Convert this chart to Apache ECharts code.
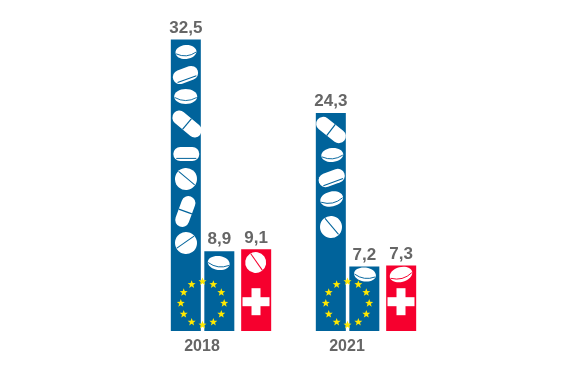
<!DOCTYPE html>
<html>
<head>
<meta charset="utf-8">
<style>html,body{margin:0;padding:0;background:#fff}#c{width:588px;height:374px}</style>
<script src="https://cdn.jsdelivr.net/npm/echarts@6/dist/echarts.min.js"></script>
</head>
<body>
<div id="c"></div>
<script>
const categories = ['2018', '2021'];
const euTotal = [32.5, 24.3];
const euSecond = [8.9, 7.2];
const swiss = [9.1, 7.3];

const BLUE = '#00639b', RED = '#f6002e', GREY = '#666666', WHITE = '#ffffff', YELLOW = '#ffe800';

// Decorative pictograms, offset in px from each group's centre / baseline
const icons = [
  [
    ['tablet', -35, -279, 10.5, 7, -5], ['caplet', -35.5, -256, 26, 14, -20], ['oval', -35.3, -234.5, 11.5, 7.5, 0],
    ['capsule', -34, -207, 34, 14, 40], ['caplet', -34.7, -177, 26, 14, 0], ['round', -35, -152, 11, 0, 40],
    ['capsule', -35.7, -119.5, 32, 14, -70], ['round', -35, -88, 11, 0, -35],
    ['tablet', -2.3, -68, 11, 7, 8], ['round', 34.7, -68.5, 10.5, 0, 55]
  ],
  [
    ['capsule', -35, -201, 34, 14, 38], ['tablet', -33.7, -176, 11, 7, -5], ['caplet', -34.3, -153, 27, 14, -20],
    ['oval', -34.3, -132, 11.5, 7.5, -12], ['round', -35, -104, 11, 0, 50],
    ['tablet', -1, -56.5, 11, 7, 8], ['oval', 35, -56.5, 11.5, 7.5, -15]
  ]
];

function tablet(rx, ry, colour) {
  return [
    { type: 'ellipse', shape: { cx: 0, cy: 0, rx: rx, ry: ry }, style: { fill: WHITE } },
    { type: 'bezierCurve', shape: { x1: -rx + 0.5, y1: 1, x2: rx - 0.5, y2: 1, cpx1: 0, cpy1: ry * 0.95 },
      style: { stroke: colour, lineWidth: 0.9, fill: null } }
  ];
}
function iconChildren(ic, colour) {
  const t = ic[0], a = ic[3], b = ic[4];
  if (t === 'tablet' || t === 'oval') return tablet(a, b, colour);
  if (t === 'caplet') return [
    { type: 'rect', shape: { x: -a / 2, y: -b / 2, width: a, height: b, r: b / 2 }, style: { fill: WHITE } },
    { type: 'line', shape: { x1: -a / 2 + 3, y1: b / 2 - 2.6, x2: a / 2 - 3, y2: b / 2 - 2.6 }, style: { stroke: colour, lineWidth: 1 } }
  ];
  if (t === 'capsule') return [
    { type: 'rect', shape: { x: -a / 2, y: -b / 2, width: a, height: b, r: b / 2 }, style: { fill: WHITE } },
    { type: 'line', shape: { x1: 0, y1: -b / 2, x2: 0, y2: b / 2 }, style: { stroke: colour, lineWidth: 1.2 } }
  ];
  return [
    { type: 'circle', shape: { cx: 0, cy: 0, r: a }, style: { fill: WHITE } },
    { type: 'line', shape: { x1: -a + 0.5, y1: -1, x2: a - 0.5, y2: -1 }, style: { stroke: colour, lineWidth: 1 } }
  ];
}
function starPoints(r) {
  const pts = [];
  for (let i = 0; i < 10; i++) {
    const rad = i % 2 ? r * 0.42 : r, ang = -Math.PI / 2 + i * Math.PI / 5;
    pts.push([rad * Math.cos(ang), rad * Math.sin(ang)]);
  }
  return pts;
}
function renderDecor(params, api) {
  const idx = params.dataIndex;
  const base = api.coord([api.value(0), 0]);
  const children = [];
  icons[idx].forEach(function (ic) {
    const onRed = ic[1] > 20;
    children.push({
      type: 'group', x: base[0] + ic[1], y: base[1] + ic[2], rotation: -ic[5] * Math.PI / 180,
      children: iconChildren(ic, onRed ? RED : BLUE)
    });
  });
  // Swiss cross
  children.push({ type: 'rect', shape: { x: base[0] + 35 - 13.5, y: base[1] - 29.3 - 4.5, width: 27, height: 9 }, style: { fill: WHITE } });
  children.push({ type: 'rect', shape: { x: base[0] + 35 - 4.5, y: base[1] - 29.3 - 13.5, width: 9, height: 27 }, style: { fill: WHITE } });
  // EU star ring
  const cx = base[0] - 18.5, cy = base[1] - 27.7;
  for (let i = 0; i < 12; i++) {
    const a = i * Math.PI / 6;
    children.push({
      type: 'polygon', x: cx + 21.7 * Math.sin(a), y: cy - 21.7 * Math.cos(a),
      shape: { points: starPoints(4.2) }, style: { fill: YELLOW }
    });
  }
  return { type: 'group', children: children };
}

const barLabel = {
  show: true, position: 'top', distance: 3, color: GREY, fontFamily: 'Liberation Sans, Arial, sans-serif',
  fontSize: 17, fontWeight: 'bold',
  formatter: function (p) { return String(p.value.toFixed(1)).replace('.', ','); }
};

const chart = echarts.init(document.getElementById('c'), null, { renderer: 'canvas' });
chart.setOption({
  animation: false,
  backgroundColor: '#ffffff',
  grid: { left: 148.5, width: 290, top: 17, bottom: 43 },
  xAxis: {
    type: 'category', data: categories,
    axisLine: { show: false }, axisTick: { show: false }, splitLine: { show: false },
    axisLabel: { color: GREY, fontFamily: 'Liberation Sans, Arial, sans-serif', fontSize: 16, fontWeight: 'bold', margin: 8, padding: [0, 38, 0, 0] }
  },
  yAxis: { type: 'value', min: 0, max: 35, show: false },
  series: [
    { name: 'EU total', type: 'bar', barWidth: 30, barGap: '11.67%', data: euTotal, itemStyle: { color: BLUE }, label: barLabel },
    { name: 'EU second', type: 'bar', barWidth: 30, data: euSecond, itemStyle: { color: BLUE }, label: barLabel },
    { name: 'spacer', type: 'bar', barWidth: 3, data: [null, null] },
    { name: 'Switzerland', type: 'bar', barWidth: 30, data: swiss, itemStyle: { color: RED }, label: barLabel },
    { name: 'decor', type: 'custom', renderItem: renderDecor, data: [[0, 0], [1, 0]], encode: { x: 0, y: 1 }, clip: false, z: 5, silent: true }
  ]
});
</script>
</body>
</html>
